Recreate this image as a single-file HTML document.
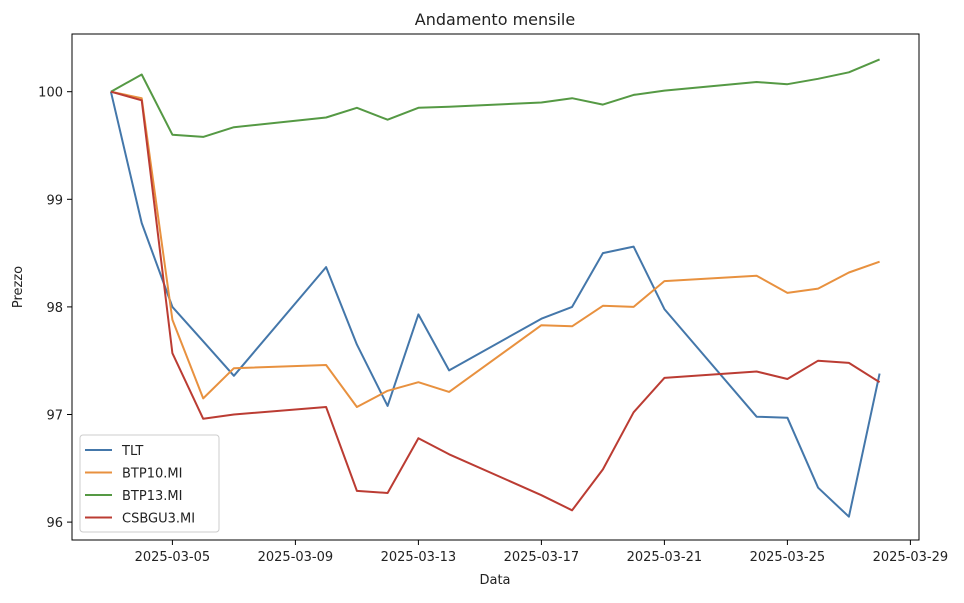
<!DOCTYPE html>
<html><head><meta charset="utf-8"><style>
body{margin:0;background:#fff;font-family:"Liberation Sans","DejaVu Sans",sans-serif}
</style></head><body>
<svg id="chart" width="964" height="598" xmlns="http://www.w3.org/2000/svg" font-family="DejaVu Sans, Liberation Sans, sans-serif">
<rect width="964" height="598" fill="#fff"/>
<text x="495" y="25" font-size="16" text-anchor="middle" fill="#222">Andamento mensile</text>
<g id="plot"></g>
<rect x="72" y="34" width="847" height="506" fill="none" stroke="#000" stroke-width="1"/>
<text x="495" y="584" font-size="13" text-anchor="middle" fill="#222">Data</text>
<text transform="translate(22,287) rotate(-90)" font-size="13" text-anchor="middle" fill="#222">Prezzo</text>
</svg>
<script>
const dates=["2025-03-03","2025-03-04","2025-03-05","2025-03-06","2025-03-07","2025-03-10","2025-03-11","2025-03-12","2025-03-13","2025-03-14","2025-03-17","2025-03-18","2025-03-19","2025-03-20","2025-03-21","2025-03-24","2025-03-25","2025-03-26","2025-03-27","2025-03-28"];
const tlt=[100,98.78,98.0,97.68,97.36,98.37,97.65,97.08,97.93,97.41,97.89,98.0,98.5,98.56,97.98,96.98,96.97,96.32,96.05,97.38];
const btp10=[100,99.94,97.88,97.15,97.43,97.46,97.07,97.22,97.3,97.21,97.83,97.82,98.01,98.0,98.24,98.29,98.13,98.17,98.32,98.42];
const btp13=[100,100.16,99.6,99.58,99.67,99.76,99.85,99.74,99.85,99.86,99.9,99.94,99.88,99.97,100.01,100.09,100.07,100.12,100.18,100.3];
const csbgu3=[100,99.92,97.57,96.96,97.0,97.07,96.29,96.27,96.78,96.63,96.25,96.11,96.49,97.02,97.34,97.4,97.33,97.5,97.48,97.3];
const xTicks=["2025-03-05","2025-03-09","2025-03-13","2025-03-17","2025-03-21","2025-03-25","2025-03-29"];
const yTicks=[96,97,98,99,100];
const seriesNames=["TLT","BTP10.MI","BTP13.MI","CSBGU3.MI"];
const colors=["#4477aa","#e8913f","#559944","#bb3c33"];
const NS="http://www.w3.org/2000/svg";
const t0=Date.UTC(2025,2,3);
function dayOf(s){const p=s.split("-");return (Date.UTC(+p[0],+p[1]-1,+p[2])-t0)/86400000;}
function X(s){return 110.9+dayOf(s)*30.75;}
function Y(v){return 91.7+(100-v)*107.6;}
const g=document.getElementById("plot");
function el(t,a){const e=document.createElementNS(NS,t);for(const k in a)e.setAttribute(k,a[k]);return e;}
xTicks.forEach(d=>{const x=X(d);
 const l=el("line",{x1:x,x2:x,y1:540,y2:545,stroke:"#000"});
 
 
 g.appendChild(l);
 const t=el("text",{x:x,y:561,"font-size":13,"text-anchor":"middle",fill:"#222"});t.textContent=d;
 
 
 g.appendChild(t);});
yTicks.forEach(v=>{const y=Y(v);
 const l=el("line",{x1:67,x2:72,y1:y,y2:y,stroke:"#000"});
 
 
 g.appendChild(l);
 const t=el("text",{x:63,y:y+5,"font-size":13,"text-anchor":"end",fill:"#222"});t.textContent=v;
 
 
 g.appendChild(t);});
[tlt,btp10,btp13,csbgu3].forEach((s,i)=>{
 const pts=s.map((v,j)=>X(dates[j]).toFixed(1)+","+Y(v).toFixed(1)).join(" ");
 const p=el("polyline",{points:pts,fill:"none",stroke:colors[i],"stroke-width":2,"stroke-linejoin":"round"});
 
 
 g.appendChild(p);});
const lg=el("g",{});


lg.appendChild(el("rect",{x:80,y:435,width:139,height:97,rx:3,fill:"#fff","fill-opacity":0.85,stroke:"#ccc"}));
seriesNames.forEach((n,i)=>{const y=450+i*22.5;
 const e=el("g",{});
 
 
 e.appendChild(el("line",{x1:85,x2:112,y1:y,y2:y,stroke:colors[i],"stroke-width":2}));
 const t=el("text",{x:122,y:y+5,"font-size":13,fill:"#222"});t.textContent=n;e.appendChild(t);
 lg.appendChild(e);});
g.appendChild(lg);
</script>
</body></html>
